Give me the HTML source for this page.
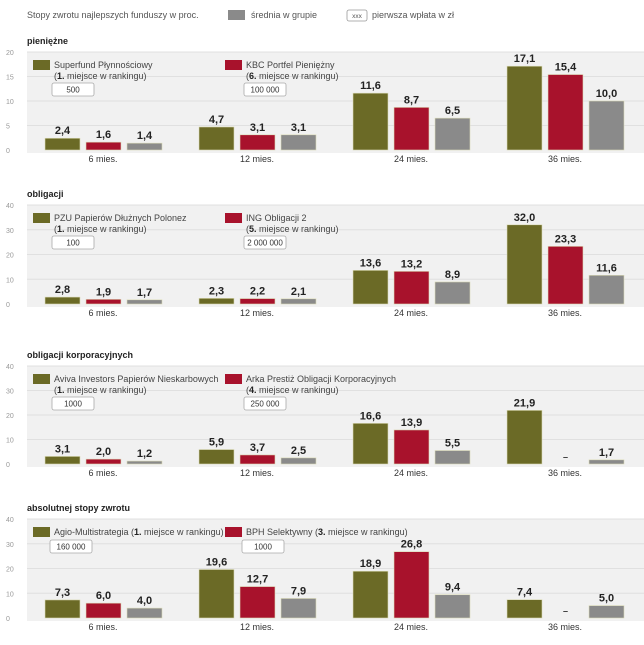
<!DOCTYPE html>
<html><head><meta charset="utf-8">
<style>
body{margin:0;width:644px;height:640px;background:#fff;font-family:"Liberation Sans",sans-serif;overflow:hidden}
svg text{font-family:"Liberation Sans",sans-serif}
</style></head>
<body>
<svg id="chart" width="644" height="640" xmlns="http://www.w3.org/2000/svg">
<g>
<text x="27" y="18" font-size="9" fill="#555">Stopy zwrotu najlepszych funduszy w proc.</text>
<rect x="228" y="10" width="17" height="10" fill="#8a8a8a"/>
<text x="251" y="18" font-size="9" fill="#555">średnia w grupie</text>
<rect x="347" y="10" width="20" height="11" fill="#fff" stroke="#999" stroke-width="0.8" rx="2"/>
<text x="357" y="18" font-size="6.5" fill="#555" text-anchor="middle">xxx</text>
<text x="372" y="18" font-size="9" fill="#555">pierwsza wpłata w zł</text>
</g>
</svg>
<script>
const categories=["6 mies.","12 mies.","24 mies.","36 mies."];
const p1Best=[2.4,4.7,11.6,17.1];
const p1Second=[1.6,3.1,8.7,15.4];
const p1Avg=[1.4,3.1,6.5,10.0];
const p2Best=[2.8,2.3,13.6,32.0];
const p2Second=[1.9,2.2,13.2,23.3];
const p2Avg=[1.7,2.1,8.9,11.6];
const p3Best=[3.1,5.9,16.6,21.9];
const p3Second=[2.0,3.7,13.9,null];
const p3Avg=[1.2,2.5,5.5,1.7];
const p4Best=[7.3,19.6,18.9,7.4];
const p4Second=[6.0,12.7,26.8,null];
const p4Avg=[4.0,7.9,9.4,5.0];
const p1Ticks=[0,5,10,15,20];
const p40Ticks=[0,10,20,30,40];

const panels=[
 {name:"pieniezne",title:"pieniężne",top:52,zero:150,max:20,ticks:p1Ticks,series:[p1Best,p1Second,p1Avg],
  leg:[["Superfund Płynnościowy","1.","500"],["KBC Portfel Pieniężny","6.","100 000"]],inline:false},
 {name:"obligacji",title:"obligacji",top:205,zero:304,max:40,ticks:p40Ticks,series:[p2Best,p2Second,p2Avg],
  leg:[["PZU Papierów Dłużnych Polonez","1.","100"],["ING Obligacji 2","5.","2 000 000"]],inline:false},
 {name:"obligacji-korporacyjnych",title:"obligacji korporacyjnych",top:366,zero:464,max:40,ticks:p40Ticks,series:[p3Best,p3Second,p3Avg],
  leg:[["Aviva Investors Papierów Nieskarbowych","1.","1000"],["Arka Prestiż Obligacji Korporacyjnych","4.","250 000"]],inline:false},
 {name:"absolutnej-stopy-zwrotu",title:"absolutnej stopy zwrotu",top:519,zero:618,max:40,ticks:p40Ticks,series:[p4Best,p4Second,p4Avg],
  leg:[["Agio-Multistrategia","1.","160 000"],["BPH Selektywny","3.","1000"]],inline:true}
];
const colors=["#6b6a26","#a8122c","#8a8a8a"];
const svg=document.getElementById('chart');
const NS="http://www.w3.org/2000/svg";
function mk(tag,attrs,parent,txt){const e=document.createElementNS(NS,tag);for(const k in attrs)e.setAttribute(k,attrs[k]);if(txt!==undefined)e.textContent=txt;parent.appendChild(e);return e;}
const groupX=[45,199,353,507];
function xBar(g,s){return groupX[g]+s*41;}

panels.forEach((p,pi)=>{
 const g=mk('g',{},svg);
 
 
 const yS=v=>p.zero-(v/p.max)*(p.zero-p.top);
 mk('rect',{x:27,y:p.top,width:617,height:p.zero-p.top+3,fill:'#f1f1f1'},g);
 const t=mk('text',{x:27,y:p.top-8,'font-size':9,'font-weight':'bold',fill:'#222'},g,p.title);
 
 
 p.ticks.forEach(tv=>{
  const y=yS(tv);
  if(tv>0){const l=mk('line',{x1:27,x2:644,y1:y,y2:y,stroke:'#e0e0e0','stroke-width':1},g);
   
   }
  const tl=mk('text',{x:6,y:y+3,'font-size':7,fill:'#999'},g,String(tv));
  
  
 });
 p.leg.forEach((L,li)=>{
  const lx=li===0?33:225;
  const lg=mk('g',{},g);
  
  
  const ly=p.top+8;
  mk('rect',{x:lx,y:ly,width:17,height:10,fill:colors[li]},lg);
  let bx;
  if(p.inline){
   const tx=mk('text',{x:lx+21,y:ly+8,'font-size':9,fill:'#444'},lg);
   tx.appendChild(document.createTextNode(L[0]+' ('));
   mk('tspan',{'font-weight':'bold',fill:'#222'},tx,L[1]);
   tx.appendChild(document.createTextNode(' miejsce w rankingu)'));
   bx={x:lx+17,y:ly+13};
  }else{
   mk('text',{x:lx+21,y:ly+8,'font-size':9,fill:'#444'},lg,L[0]);
   const tx=mk('text',{x:lx+21,y:ly+19,'font-size':9,fill:'#444'},lg);
   tx.appendChild(document.createTextNode('('));
   mk('tspan',{'font-weight':'bold',fill:'#222'},tx,L[1]);
   tx.appendChild(document.createTextNode(' miejsce w rankingu)'));
   bx={x:lx+19,y:ly+23};
  }
  const bw=42;
  mk('rect',{x:bx.x,y:bx.y,width:bw,height:13,fill:'#fff',stroke:'#aaa','stroke-width':0.8,rx:2},lg);
  mk('text',{x:bx.x+bw/2,y:bx.y+9.5,'font-size':8,fill:'#333','text-anchor':'middle'},lg,L[2]);
 });
 p.series.forEach((arr,si)=>{
  arr.forEach((v,ci)=>{
   const x=xBar(ci,si);
   if(v===null){
    const d=mk('text',{x:x+17.5,y:p.zero-4,'font-size':9,'font-weight':'bold',fill:'#333','text-anchor':'middle'},g,'–');
    
    
    return;
   }
   const y=yS(v);
   const r=mk('rect',{x:x,y:y,width:35,height:p.zero-y,fill:colors[si],stroke:'#dcdcb8','stroke-width':0.6},g);
   
   
   const vl=mk('text',{x:x+17.5,y:y-4,'font-size':11,'font-weight':'bold',fill:'#222','text-anchor':'middle'},g,v.toFixed(1).replace('.',','));
   
   
  });
 });
 categories.forEach((c,ci)=>{
  const cl=mk('text',{x:groupX[ci]+58,y:p.zero+12,'font-size':9,fill:'#333','text-anchor':'middle'},g,c);
  
  
 });
});
</script>
</body></html>
